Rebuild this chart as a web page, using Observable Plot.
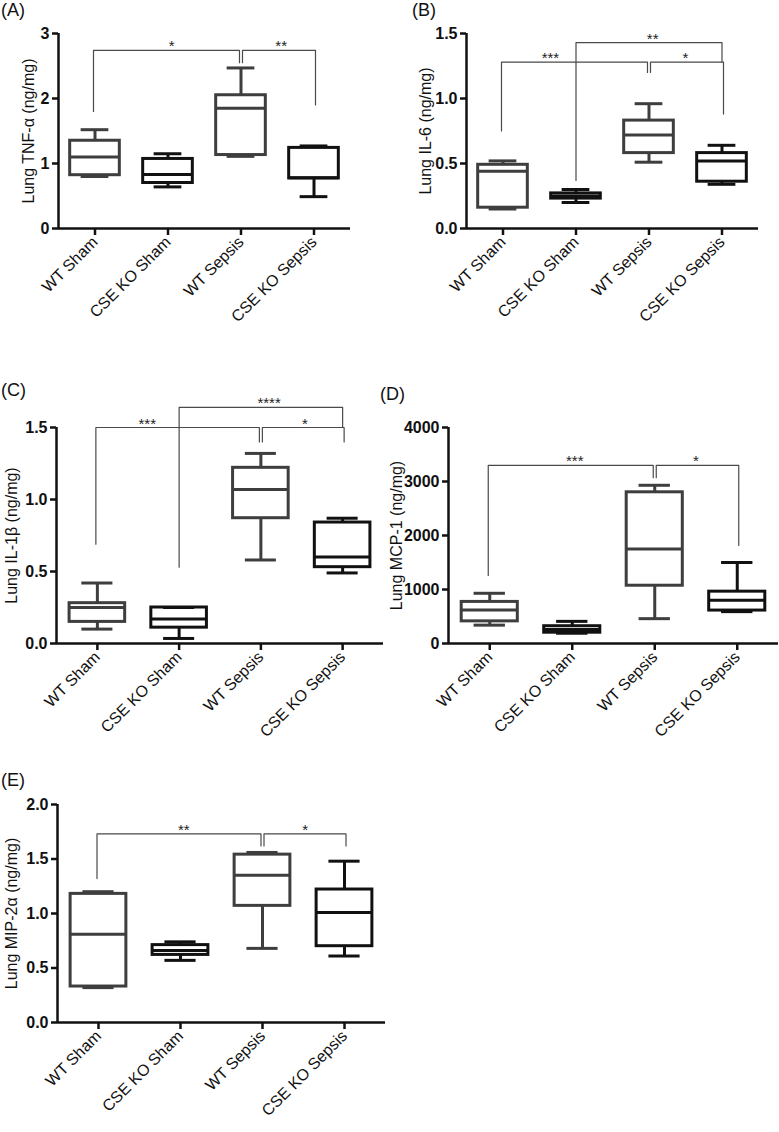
<!DOCTYPE html>
<html><head><meta charset="utf-8">
<script src="https://cdn.jsdelivr.net/npm/d3@7"></script>
<script src="https://cdn.jsdelivr.net/npm/@observablehq/plot@0.6"></script>
<style>
body{margin:0;background:#fff;font-family:"Liberation Sans",Arial,sans-serif;}
#wrap{position:relative;width:779px;height:1132px;overflow:hidden;background:#fff;}
.panel{position:absolute;}
.plab{position:absolute;font-size:18px;color:#111;line-height:1;}
.panel g[aria-label="y-axis tick label"]{font-weight:bold;font-size:16px;}
.panel g[aria-label="y-axis tick label"] text{font-weight:bold;font-size:16px;}
.panel g[aria-label="x-axis tick label"]{font-size:16px;}
.panel g[aria-label="x-axis tick label"] text{font-size:16px;}
.panel g[aria-label="y-axis tick"], .panel g[aria-label="x-axis tick"]{stroke-width:2.5px;stroke:#111;}
</style></head><body><div id="wrap"></div>
<script>
// Categories
const groups = ["WT Sham", "CSE KO Sham", "WT Sepsis", "CSE KO Sepsis"];

// (A) Lung TNF-α (ng/mg)
const tnfMin = [0.80, 0.64, 1.11, 0.49];
const tnfQ1  = [0.82, 0.70, 1.13, 0.77];
const tnfMed = [1.10, 0.83, 1.85, 0.78];
const tnfQ3  = [1.35, 1.07, 2.05, 1.24];
const tnfMax = [1.52, 1.15, 2.47, 1.27];
const tnfTicks = [0, 1, 2, 3];
const tnfBrFrom = [0, 2], tnfBrTo = [2, 3], tnfBrY = [2.74, 2.74];
const tnfLegFrom = [1.80, 2.55], tnfLegTo = [2.55, 1.90];
const tnfStars = ["*", "**"], tnfStarX = [1.05, 2.55];

// (B) Lung IL-6 (ng/mg)
const il6Min = [0.15, 0.20, 0.51, 0.34];
const il6Q1  = [0.16, 0.23, 0.58, 0.36];
const il6Med = [0.44, 0.25, 0.72, 0.52];
const il6Q3  = [0.49, 0.27, 0.83, 0.58];
const il6Max = [0.52, 0.30, 0.96, 0.64];
const il6Ticks = [0, 0.5, 1.0, 1.5];
const il6BrFrom = [0, 2, 1], il6BrTo = [2, 3, 3], il6BrY = [1.28, 1.28, 1.43];
const il6LegFrom = [0.75, 1.20, 0.37], il6LegTo = [1.20, 0.88, 1.28];
const il6Stars = ["***", "*", "**"], il6StarX = [0.65, 2.5, 2.05];

// (C) Lung IL-1β (ng/mg)
const il1Min = [0.10, 0.035, 0.58, 0.49];
const il1Q1  = [0.15, 0.11, 0.87, 0.53];
const il1Med = [0.25, 0.17, 1.07, 0.60];
const il1Q3  = [0.28, 0.25, 1.22, 0.84];
const il1Max = [0.42, 0.25, 1.32, 0.87];
const il1Ticks = [0, 0.5, 1.0, 1.5];
const il1BrFrom = [0, 2, 1], il1BrTo = [2, 3, 3], il1BrY = [1.50, 1.50, 1.64];
const il1LegFrom = [0.69, 1.40, 0.53], il1LegTo = [1.40, 1.40, 1.50];
const il1Stars = ["***", "*", "****"], il1StarX = [0.61, 2.54, 2.1];

// (D) Lung MCP-1 (ng/mg)
const mcpMin = [340, 190, 460, 590];
const mcpQ1  = [410, 200, 1070, 610];
const mcpMed = [620, 260, 1750, 800];
const mcpQ3  = [770, 320, 2800, 960];
const mcpMax = [930, 410, 2930, 1500];
const mcpTicks = [0, 1000, 2000, 3000, 4000];
const mcpBrFrom = [0, 2], mcpBrTo = [2, 3], mcpBrY = [3300, 3300];
const mcpLegFrom = [1260, 3070], mcpLegTo = [3070, 1815];
const mcpStars = ["***", "*"], mcpStarX = [1.03, 2.5];

// (E) Lung MIP-2α (ng/mg)
const mipMin = [0.32, 0.57, 0.68, 0.61];
const mipQ1  = [0.33, 0.62, 1.07, 0.70];
const mipMed = [0.81, 0.66, 1.35, 1.01];
const mipQ3  = [1.18, 0.71, 1.54, 1.22];
const mipMax = [1.20, 0.74, 1.56, 1.48];
const mipTicks = [0, 0.5, 1.0, 1.5, 2.0];
const mipBrFrom = [0, 2], mipBrTo = [2, 3], mipBrY = [1.73, 1.73];
const mipLegFrom = [1.32, 1.62], mipLegTo = [1.62, 1.62];
const mipStars = ["**", "*"], mipStarX = [1.04, 2.52];

const FONT = '"Liberation Sans", Arial, sans-serif';
const BOX = 0.34, CAP = 0.19, HUB = 2;
const strokeOf = d => (d.i % 2 ? "#111" : "#3e3e3e");

function panel(cfg) {
  const rows = groups.map((g, i) => ({i, g, min: cfg.min[i], q1: cfg.q1[i], med: cfg.med[i], q3: cfg.q3[i], max: cfg.max[i]}));
  const L = cfg.layout;
  const xDom = [-0.5, groups.length - 0.5];
  const brackets = cfg.brFrom.map((f, j) => {
    const t = cfg.brTo[j];
    const pts = [
      {x: f, y: cfg.legFrom[j]}, {x: f, y: cfg.brY[j]},
      {x: t, y: cfg.brY[j]}, {x: t, y: cfg.legTo[j]}
    ];
    const dx = t === HUB ? -1.5 : f === HUB ? 1.5 : 0;
    return Plot.line(pts, {x: "x", y: "y", stroke: "#4a4a4a", strokeWidth: 1.2, dx});
  });
  const stars = cfg.stars.map((s, j) => ({s, x: cfg.starX[j], y: cfg.brY[j]}));
  const chart = Plot.plot({
    width: L.width, height: L.height,
    marginLeft: L.ml, marginRight: L.mr, marginTop: L.mt, marginBottom: L.mb,
    style: {fontFamily: FONT, fontSize: "16px", background: "transparent", overflow: "visible", color: "#111"},
    x: {type: "linear", domain: xDom, label: null},
    y: {domain: cfg.yDomain, label: null},
    marks: [
      ...brackets,
      Plot.text(stars, {x: "x", y: "y", text: "s", lineAnchor: "bottom", dy: 1, fontSize: 15, fill: "#222"}),
      Plot.rect(rows, {x1: d => d.i - BOX, x2: d => d.i + BOX, y1: "q1", y2: "q3", fill: "none", stroke: strokeOf, strokeWidth: 3}),
      Plot.ruleY(rows, {x1: d => d.i - BOX, x2: d => d.i + BOX, y: "med", stroke: strokeOf, strokeWidth: 3}),
      Plot.ruleX(rows, {x: "i", y1: "q3", y2: "max", stroke: strokeOf, strokeWidth: 3}),
      Plot.ruleX(rows, {x: "i", y1: "min", y2: "q1", stroke: strokeOf, strokeWidth: 3}),
      Plot.ruleY(rows, {x1: d => d.i - CAP, x2: d => d.i + CAP, y: "max", stroke: strokeOf, strokeWidth: 3}),
      Plot.ruleY(rows, {x1: d => d.i - CAP, x2: d => d.i + CAP, y: "min", stroke: strokeOf, strokeWidth: 3}),
      Plot.ruleX([xDom[0]], {stroke: "#111", strokeWidth: 2.5}),
      Plot.ruleY([cfg.yDomain[0]], {stroke: "#111", strokeWidth: 2.5}),
      Plot.axisY({ticks: cfg.yTicks, tickFormat: cfg.yFormat, tickSize: 6, tickPadding: 3, fontSize: 16, fontWeight: "bold", strokeWidth: 2.5, label: null}),
      Plot.axisX({ticks: groups.map((g, i) => i), tickFormat: i => groups[i], tickRotate: -45, tickSize: 7, tickPadding: 4, fontSize: 16, strokeWidth: 2.5, label: null}),
      Plot.text([cfg.title], {text: d => d, frameAnchor: "left", textAnchor: "middle", lineAnchor: "middle", rotate: -90, dx: L.labelDx, fontSize: 16, fill: "#111"})
    ]
  });
  chart.classList.add("panel");
  chart.style.left = L.left + "px";
  chart.style.top = L.top + "px";
  document.getElementById("wrap").appendChild(chart);
  const lab = document.createElement("div");
  lab.className = "plab";
  lab.textContent = cfg.tag;
  lab.style.left = L.tagX + "px";
  lab.style.top = L.tagY + "px";
  document.getElementById("wrap").appendChild(lab);
}

panel({tag: "(A)", title: "Lung TNF-α (ng/mg)", min: tnfMin, q1: tnfQ1, med: tnfMed, q3: tnfQ3, max: tnfMax,
  yDomain: [0, 3], yTicks: tnfTicks, yFormat: d3.format("d"),
  brFrom: tnfBrFrom, brTo: tnfBrTo, brY: tnfBrY, legFrom: tnfLegFrom, legTo: tnfLegTo, stars: tnfStars, starX: tnfStarX,
  layout: {left: 0, top: 0, width: 390, height: 340, ml: 58, mr: 40, mt: 33, mb: 112, labelDx: -30, tagX: 1, tagY: 1}});

panel({tag: "(B)", title: "Lung IL-6 (ng/mg)", min: il6Min, q1: il6Q1, med: il6Med, q3: il6Q3, max: il6Max,
  yDomain: [0, 1.5], yTicks: il6Ticks, yFormat: d3.format(".1f"),
  brFrom: il6BrFrom, brTo: il6BrTo, brY: il6BrY, legFrom: il6LegFrom, legTo: il6LegTo, stars: il6Stars, starX: il6StarX,
  layout: {left: 390, top: 0, width: 389, height: 340, ml: 76, mr: 21, mt: 33, mb: 112, labelDx: -41, tagX: 412, tagY: 1}});

panel({tag: "(C)", title: "Lung IL-1β (ng/mg)", min: il1Min, q1: il1Q1, med: il1Med, q3: il1Q3, max: il1Max,
  yDomain: [0, 1.5], yTicks: il1Ticks, yFormat: d3.format(".1f"),
  brFrom: il1BrFrom, brTo: il1BrTo, brY: il1BrY, legFrom: il1LegFrom, legTo: il1LegTo, stars: il1Stars, starX: il1StarX,
  layout: {left: 0, top: 360, width: 390, height: 395, ml: 56, mr: 7, mt: 67, mb: 112, labelDx: -45, tagX: 1, tagY: 381}});

panel({tag: "(D)", title: "Lung MCP-1 (ng/mg)", min: mcpMin, q1: mcpQ1, med: mcpMed, q3: mcpQ3, max: mcpMax,
  yDomain: [0, 4000], yTicks: mcpTicks, yFormat: d3.format("d"),
  brFrom: mcpBrFrom, brTo: mcpBrTo, brY: mcpBrY, legFrom: mcpLegFrom, legTo: mcpLegTo, stars: mcpStars, starX: mcpStarX,
  layout: {left: 390, top: 360, width: 389, height: 395, ml: 58, mr: 1, mt: 67, mb: 112, labelDx: -52, tagX: 380, tagY: 385}});

panel({tag: "(E)", title: "Lung MIP-2α (ng/mg)", min: mipMin, q1: mipQ1, med: mipMed, q3: mipQ3, max: mipMax,
  yDomain: [0, 2], yTicks: mipTicks, yFormat: d3.format(".1f"),
  brFrom: mipBrFrom, brTo: mipBrTo, brY: mipBrY, legFrom: mipLegFrom, legTo: mipLegTo, stars: mipStars, starX: mipStarX,
  layout: {left: 0, top: 760, width: 390, height: 372, ml: 57, mr: 5, mt: 44, mb: 110, labelDx: -46, tagX: 1, tagY: 771}});
</script></body></html>
